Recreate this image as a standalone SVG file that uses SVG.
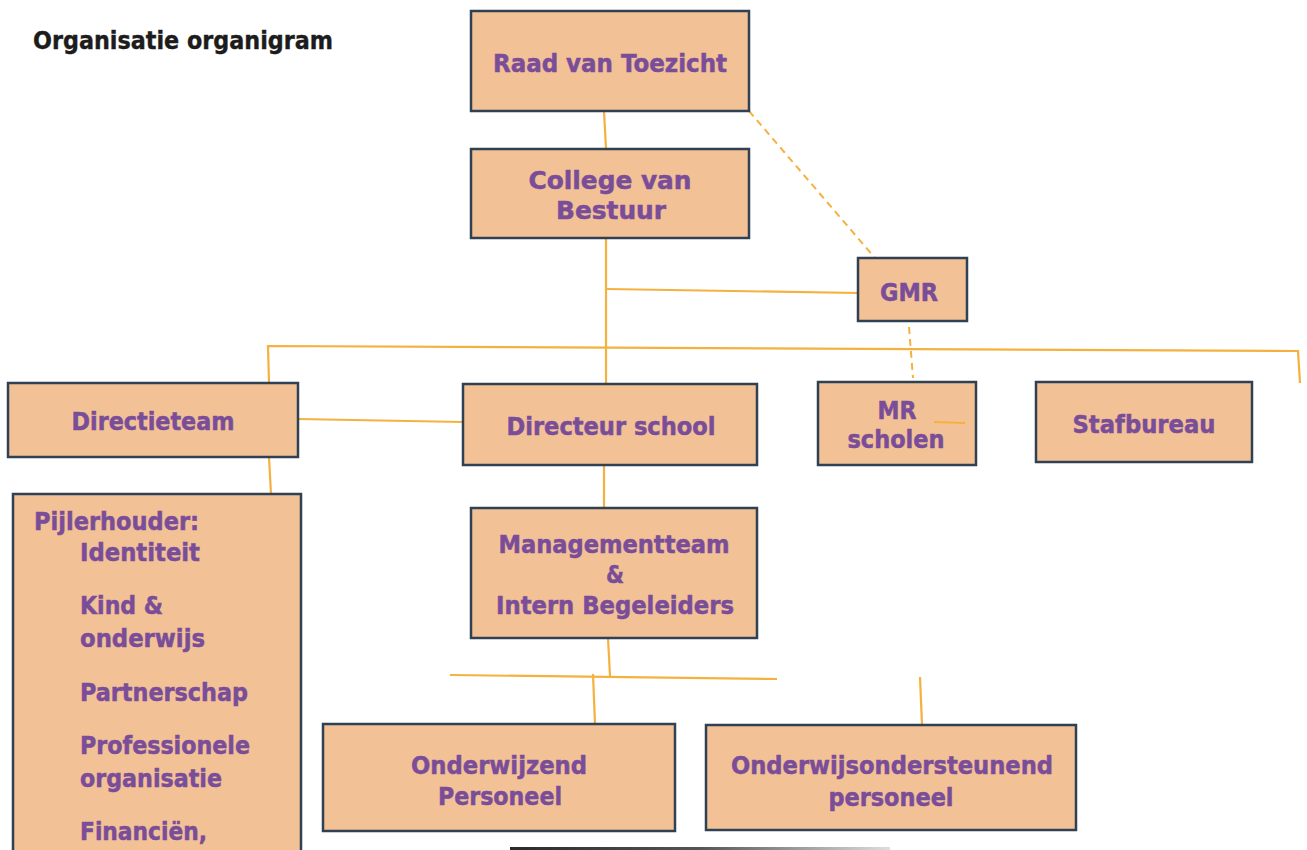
<svg xmlns="http://www.w3.org/2000/svg" width="1307" height="850" viewBox="0 0 1307 850">
<defs>
<style>
.box{fill:#f2c196;stroke:#2f4152;stroke-width:2.5}
.t{font-family:"DejaVu Sans",Verdana,sans-serif;font-weight:bold;font-size:24px;fill:#7a4d99;stroke:#7a4d99;stroke-width:0.5}
.c{stroke:#f5b13f;stroke-width:2.2;fill:none}
.d{stroke:#f5b13f;stroke-width:2;fill:none;stroke-dasharray:7 5}
</style>
<linearGradient id="fade" x1="0" y1="0" x2="1" y2="0">
<stop offset="0" stop-color="#2a2a2a"/>
<stop offset="0.5" stop-color="#555"/>
<stop offset="1" stop-color="#ddd"/>
</linearGradient>
</defs>
<rect width="1307" height="850" fill="#ffffff"/>
<text x="33" y="49" font-family="Tahoma,'DejaVu Sans',sans-serif" font-weight="bold" font-size="24" fill="#1c1c1c" stroke="#1c1c1c" stroke-width="0.4" textLength="300" lengthAdjust="spacingAndGlyphs">Organisatie organigram</text>

<g id="connectors">
<path class="c" d="M604 111 L606 149"/>
<path class="c" d="M606 238 L606 384"/>
<path class="c" d="M607 289 L858 293"/>
<path class="d" d="M749 111 L875 258"/>
<path class="d" d="M909 327 L913 378"/>
<path class="c" d="M269 383 L268 346 L1298 351 L1300 383"/>
<path class="c" d="M298 419 L463 422"/>
<path class="c" d="M269 457 L271 494"/>
<path class="c" d="M604 465 L604 508"/>
<path class="c" d="M608 638 L610 676"/>
<path class="c" d="M450 675 L777 679"/>
<path class="c" d="M593 674 L595 724"/>
<path class="c" d="M920 677 L922 725"/>
</g>

<g id="raad">
<rect class="box" x="471" y="11" width="278" height="100"/>
<text class="t" x="610" y="72" text-anchor="middle" textLength="234" lengthAdjust="spacingAndGlyphs">Raad van Toezicht</text>
</g>
<g id="college">
<rect class="box" x="471" y="149" width="278" height="89"/>
<text class="t" x="610" y="189" text-anchor="middle" textLength="163" lengthAdjust="spacingAndGlyphs">College van</text>
<text class="t" x="611" y="219" text-anchor="middle" textLength="110" lengthAdjust="spacingAndGlyphs">Bestuur</text>
</g>
<g id="gmr">
<rect class="box" x="858" y="258" width="109" height="63"/>
<text class="t" x="909" y="301" text-anchor="middle" textLength="58" lengthAdjust="spacingAndGlyphs">GMR</text>
</g>
<g id="directieteam">
<rect class="box" x="8" y="383" width="290" height="74"/>
<text class="t" x="153" y="430" text-anchor="middle" textLength="163" lengthAdjust="spacingAndGlyphs">Directieteam</text>
</g>
<g id="directeur">
<rect class="box" x="463" y="384" width="294" height="81"/>
<text class="t" x="611" y="435" text-anchor="middle" textLength="209" lengthAdjust="spacingAndGlyphs">Directeur school</text>
</g>
<g id="mr">
<rect class="box" x="818" y="382" width="158" height="83"/>
<text class="t" x="897" y="419" text-anchor="middle" textLength="39" lengthAdjust="spacingAndGlyphs">MR</text>
<path class="c" d="M934 422 L965 423"/>
<text class="t" x="896" y="448" text-anchor="middle" textLength="97" lengthAdjust="spacingAndGlyphs">scholen</text>
</g>
<g id="stafbureau">
<rect class="box" x="1036" y="382" width="216" height="80"/>
<text class="t" x="1144" y="433" text-anchor="middle" textLength="143" lengthAdjust="spacingAndGlyphs">Stafbureau</text>
</g>
<g id="pijlerhouder">
<rect class="box" x="13" y="494" width="288" height="380"/>
<text class="t" x="34" y="530" textLength="165" lengthAdjust="spacingAndGlyphs">Pijlerhouder:</text>
<text class="t" x="80" y="561" textLength="120" lengthAdjust="spacingAndGlyphs">Identiteit</text>
<text class="t" x="80" y="614" textLength="83" lengthAdjust="spacingAndGlyphs">Kind &amp;</text>
<text class="t" x="80" y="647" textLength="125" lengthAdjust="spacingAndGlyphs">onderwijs</text>
<text class="t" x="80" y="701" textLength="168" lengthAdjust="spacingAndGlyphs">Partnerschap</text>
<text class="t" x="80" y="754" textLength="170" lengthAdjust="spacingAndGlyphs">Professionele</text>
<text class="t" x="80" y="787" textLength="142" lengthAdjust="spacingAndGlyphs">organisatie</text>
<text class="t" x="80" y="840" textLength="127" lengthAdjust="spacingAndGlyphs">Financiën,</text>
</g>
<g id="management">
<rect class="box" x="471" y="508" width="286" height="130"/>
<text class="t" x="614" y="553" text-anchor="middle" textLength="231" lengthAdjust="spacingAndGlyphs">Managementteam</text>
<text class="t" x="615" y="583" text-anchor="middle" textLength="18" lengthAdjust="spacingAndGlyphs">&amp;</text>
<text class="t" x="615" y="614" text-anchor="middle" textLength="238" lengthAdjust="spacingAndGlyphs">Intern Begeleiders</text>
</g>
<g id="onderwijzend">
<rect class="box" x="323" y="724" width="352" height="107"/>
<text class="t" x="499" y="774" text-anchor="middle" textLength="176" lengthAdjust="spacingAndGlyphs">Onderwijzend</text>
<text class="t" x="500" y="805" text-anchor="middle" textLength="124" lengthAdjust="spacingAndGlyphs">Personeel</text>
</g>
<g id="ondersteunend">
<rect class="box" x="706" y="725" width="370" height="105"/>
<text class="t" x="892" y="774" text-anchor="middle" textLength="322" lengthAdjust="spacingAndGlyphs">Onderwijsondersteunend</text>
<text class="t" x="891" y="806" text-anchor="middle" textLength="125" lengthAdjust="spacingAndGlyphs">personeel</text>
</g>
<rect x="510" y="847" width="380" height="3" fill="url(#fade)"/>
</svg>
